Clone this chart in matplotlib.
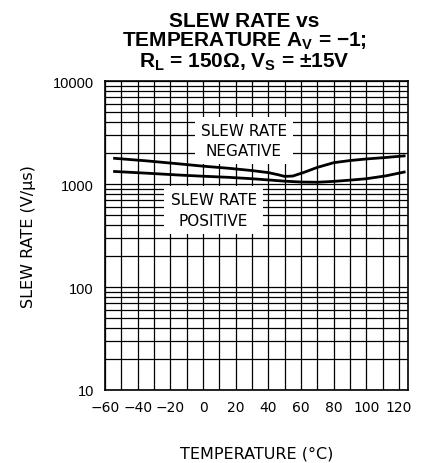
import matplotlib
matplotlib.use("Agg")
import matplotlib.pyplot as plt
from matplotlib.ticker import FixedLocator, LogLocator, NullFormatter

# Slew rate vs temperature, A_V = -1, R_L = 150 ohm, V_S = +/-15 V
temp_neg = [-55, -35, -14, 0, 16, 30, 40, 46, 50, 55, 62, 70, 80, 90, 100, 112, 124]
slew_neg = [1780, 1680, 1565, 1490, 1420, 1350, 1290, 1230, 1185, 1195, 1300, 1450, 1610, 1690, 1750, 1810, 1880]

temp_pos = [-55, -35, -14, 0, 16, 30, 40, 50, 60, 70, 80, 90, 100, 112, 124]
slew_pos = [1325, 1275, 1220, 1190, 1160, 1125, 1095, 1065, 1045, 1040, 1060, 1090, 1125, 1200, 1315]

x_ticks = [-60, -40, -20, 0, 20, 40, 60, 80, 100, 120]
x_tick_labels = ["\u221260", "\u221240", "\u221220", "0", "20", "40", "60", "80", "100", "120"]
y_ticks = [10, 100, 1000, 10000]
y_tick_labels = ["10", "100", "1000", "10000"]

stroke_font = "DejaVu Sans"
plain_font = "Liberation Sans"

fig = plt.figure(figsize=(4.25, 4.64), dpi=100)
ax = fig.add_axes([105 / 425, 1 - 391 / 464, 303 / 425, 309 / 464])

ax.set_yscale("log")
ax.set_xlim(-60, 125.5)
ax.set_ylim(10, 10000)

ax.xaxis.set_major_locator(FixedLocator(x_ticks))
ax.xaxis.set_minor_locator(FixedLocator(list(range(-50, 125, 20))))
ax.yaxis.set_major_locator(FixedLocator(y_ticks))
ax.yaxis.set_minor_locator(LogLocator(base=10, subs=range(2, 10)))
ax.yaxis.set_minor_formatter(NullFormatter())

ax.set_xticklabels(x_tick_labels, fontfamily=stroke_font, fontsize=10)
ax.set_yticklabels(y_tick_labels, fontfamily=plain_font, fontsize=10.5)
ax.tick_params(which="both", length=0)
ax.tick_params(axis="x", pad=7)
ax.tick_params(axis="y", pad=8)

ax.grid(True, which="both", color="black", linewidth=0.9)
ax.set_axisbelow(True)
for spine in ax.spines.values():
    spine.set_linewidth(1.2)
    spine.set_color("black")

ax.plot(temp_neg, slew_neg, color="black", linewidth=2.0, solid_capstyle="butt", zorder=3)
ax.plot(temp_pos, slew_pos, color="black", linewidth=2.0, solid_capstyle="butt", zorder=3)

box = dict(boxstyle="square,pad=0.4", facecolor="white", edgecolor="none")
ax.text(25, 2650, "SLEW RATE\nNEGATIVE", ha="center", va="center", fontfamily=stroke_font,
        fontsize=11, linespacing=1.45, bbox=box, zorder=4)
ax.text(6.5, 560, "SLEW RATE\nPOSITIVE", ha="center", va="center", fontfamily=stroke_font,
        fontsize=11, linespacing=1.45, bbox=box, zorder=4)

ax.set_xlabel("TEMPERATURE (\u00b0C)", fontfamily=stroke_font, fontsize=11.5, labelpad=23)
ax.set_ylabel("SLEW RATE (V/\u03bcs)", fontfamily=stroke_font, fontsize=11.5, labelpad=12)

fig.text(244 / 425, 1 - 12 / 464,
         "SLEW RATE vs\nTEMPERATURE A$_\\mathregular{V}$ = \u22121;\nR$_\\mathregular{L}$ = 150\u03a9, V$_\\mathregular{S}$ = \u00b115V",
         ha="center", va="top", fontfamily=plain_font, fontweight="bold", fontsize=15,
         linespacing=0.97)

fig.savefig("out.png", dpi=100)
